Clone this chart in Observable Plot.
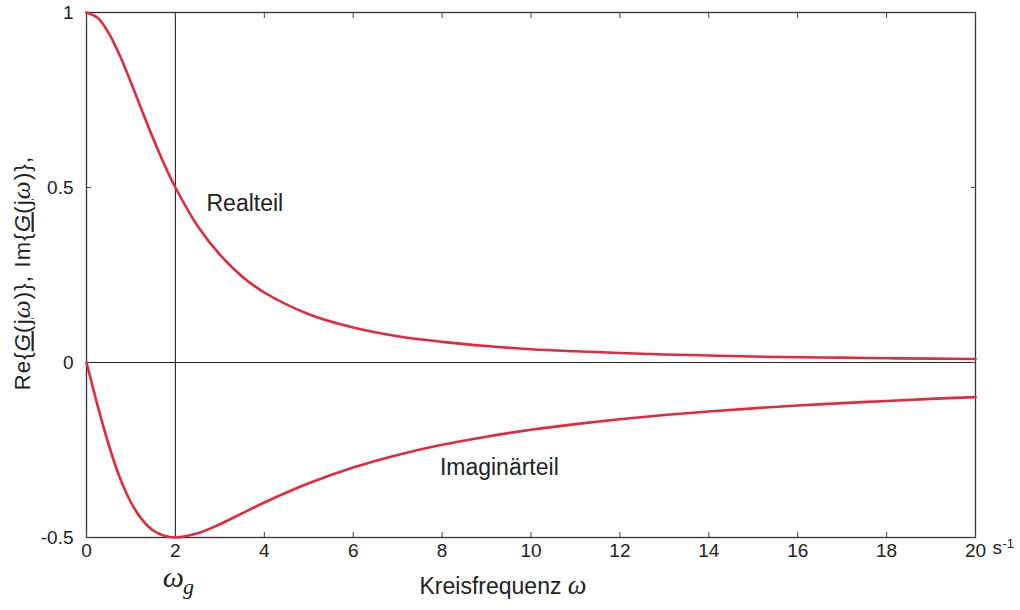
<!DOCTYPE html>
<html>
<head>
<meta charset="utf-8">
<script src="https://cdn.jsdelivr.net/npm/d3@7"></script>
<script src="https://cdn.jsdelivr.net/npm/@observablehq/plot@0.6"></script>
<style>
  body { margin: 0; background: #fff; }
  svg { display: block; }
</style>
</head>
<body>
<div id="chart"></div>
<script>
// Frequency response of a first-order low-pass, sampled along ω (s^-1)
const omega = [0, 0.25, 0.5, 0.75, 1, 1.25, 1.5, 1.75, 2, 2.5, 3, 3.5, 4, 5, 6, 7, 8, 9, 10, 11, 12, 13, 14, 15, 16, 17, 18, 19, 20];
const realPart = [1, 0.985, 0.941, 0.877, 0.8, 0.719, 0.64, 0.566, 0.5, 0.39, 0.308, 0.246, 0.2, 0.138, 0.1, 0.075, 0.059, 0.047, 0.038, 0.032, 0.027, 0.023, 0.02, 0.017, 0.015, 0.014, 0.012, 0.011, 0.01];
const imagPart = [0, -0.123, -0.235, -0.329, -0.4, -0.449, -0.48, -0.495, -0.5, -0.488, -0.462, -0.431, -0.4, -0.345, -0.3, -0.264, -0.235, -0.212, -0.192, -0.176, -0.162, -0.15, -0.14, -0.131, -0.123, -0.116, -0.11, -0.104, -0.099];

const xTicks = [0, 2, 4, 6, 8, 10, 12, 14, 16, 18, 20];
const yTicks = [-0.5, 0, 0.5, 1];
const cornerFrequency = 2;

const curveLabels = [
  {w: 2.7, v: 0.455, text: "Realteil"},
  {w: 7.95, v: -0.3, text: "Imaginärteil"}
];

const realRows = omega.map((w, i) => ({w, v: realPart[i]}));
const imagRows = omega.map((w, i) => ({w, v: imagPart[i]}));

const red = "#e5283b";
const ink = "#222";
const sans = "Liberation Sans, Arial, Helvetica, sans-serif";
const serif = "Liberation Serif, Times New Roman, serif";

const chart = Plot.plot({
  width: 1020,
  height: 610,
  marginLeft: 86,
  marginRight: 45,
  marginTop: 12,
  marginBottom: 73,
  style: {fontFamily: sans, color: ink, background: "#fff", overflow: "visible"},
  x: {domain: [0, 20]},
  y: {domain: [-0.5, 1]},
  marks: [
    Plot.frame({stroke: "#333", strokeWidth: 1.3}),
    Plot.ruleY([0], {stroke: ink, strokeWidth: 1.2}),
    Plot.ruleX([cornerFrequency], {stroke: ink, strokeWidth: 1.1}),
    // inward ticks on all four sides (outward ticks shifted back inside the frame)
    Plot.axisX({ticks: xTicks, anchor: "bottom", tickSize: 5, dy: -5, tickFormat: () => "", label: null, stroke: "#444"}),
    Plot.axisX({ticks: xTicks, anchor: "top", tickSize: 5, dy: 5, tickFormat: () => "", label: null, stroke: "#444"}),
    Plot.axisY({ticks: yTicks, anchor: "left", tickSize: 5, dx: 5, tickFormat: () => "", label: null, stroke: "#444"}),
    Plot.axisY({ticks: yTicks, anchor: "right", tickSize: 5, dx: -5, tickFormat: () => "", label: null, stroke: "#444"}),
    // tick labels
    Plot.axisX({ticks: xTicks, anchor: "bottom", tickSize: 0, tickPadding: 6, fontSize: 19, tickFormat: d => String(d), label: null}),
    Plot.axisY({ticks: yTicks, anchor: "left", tickSize: 0, tickPadding: 13, fontSize: 19, tickFormat: d => String(d), label: null}),
    // unit after the last x tick
    Plot.text([20], {x: d => d, frameAnchor: "bottom", dx: 17, dy: 16, text: () => "s", textAnchor: "start", fontSize: 19, fill: ink}),
    Plot.text([20], {x: d => d, frameAnchor: "bottom", dx: 27, dy: 10, text: () => "-1", textAnchor: "start", fontSize: 13, fill: ink}),
    // corner frequency marker
    Plot.text([cornerFrequency], {x: d => d, frameAnchor: "bottom", dx: -2, dy: 49, text: () => "ω", fontSize: 30, fontStyle: "italic", fontFamily: serif, fill: ink}),
    Plot.text([cornerFrequency], {x: d => d, frameAnchor: "bottom", dx: 13, dy: 56, text: () => "g", fontSize: 22, fontStyle: "italic", fontFamily: serif, fill: ink}),
    // axis titles
    Plot.text(["Kreisfrequenz ω"], {frameAnchor: "bottom", dx: -28, dy: 56, text: d => d, fontSize: 23, fill: ink, className: "xlab"}),
    Plot.text(["Re{G(jω)}, Im{G(jω)},"], {frameAnchor: "left", textAnchor: "middle", dx: -64, dy: -2, rotate: -90, text: d => d, fontSize: 22, fill: ink, className: "ylab"}),
    // curves
    Plot.line(realRows, {x: "w", y: "v", stroke: red, strokeWidth: 2.6, curve: "catmull-rom"}),
    Plot.line(imagRows, {x: "w", y: "v", stroke: red, strokeWidth: 2.6, curve: "catmull-rom"}),
    Plot.text(curveLabels, {x: "w", y: "v", text: "text", textAnchor: "start", fontSize: 23, fill: ink})
  ]
});

// Rich text: italic serif ω and the underlined complex G
function richText(node, parts) {
  const t = d3.select(node);
  t.text(null);
  for (const p of parts) {
    const s = t.append("tspan").text(p.s);
    if (p.serif) s.attr("font-family", serif).attr("font-style", "italic").attr("font-size", "1.15em");
    if (p.italic) s.attr("font-style", "italic");
    if (p.under) s.attr("text-decoration", "underline");
  }
}
const xl = chart.querySelector(".xlab text");
if (xl) richText(xl, [{s: "Kreisfrequenz "}, {s: "ω", serif: true}]);
const yl = chart.querySelector(".ylab text");
if (yl) {
  richText(yl, [
    {s: "Re{"}, {s: "G", italic: true, under: true}, {s: "(j", under: true}, {s: "ω", serif: true}, {s: ")}, Im{"},
    {s: "G", italic: true, under: true}, {s: "(j", under: true}, {s: "ω", serif: true}, {s: ")},"}
  ]);
  yl.setAttribute("letter-spacing", "1.2");
}

document.getElementById("chart").appendChild(chart);
</script>
</body>
</html>
